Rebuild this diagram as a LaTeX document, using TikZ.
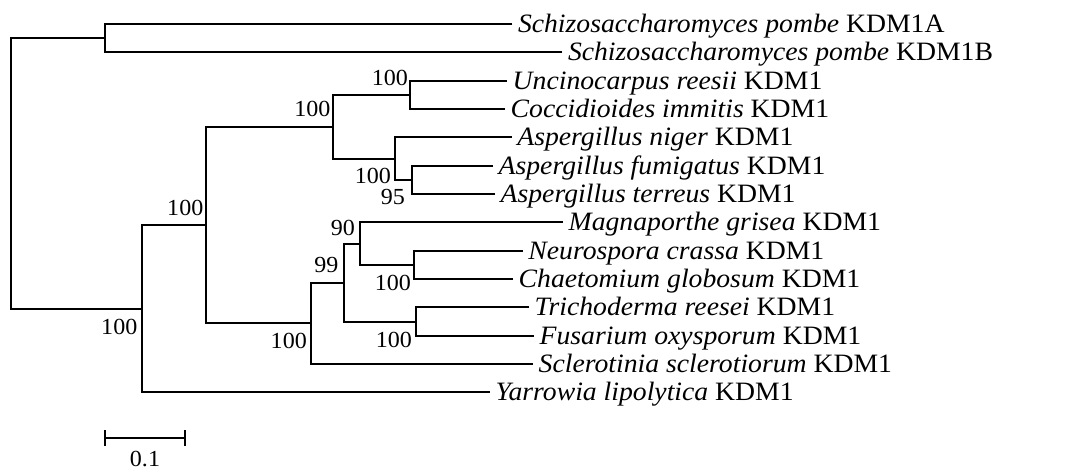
\documentclass[tikz,border=0pt]{standalone}
\usepackage{fontspec}
\setmainfont{Liberation Serif}[FakeStretch=1.045]
\begin{document}
\begin{tikzpicture}[x=1pt,y=-1pt,
  branch/.style={line width=2pt, black},
  leaflab/.style={anchor=base west, inner sep=0pt, xshift=5.5pt, yshift=-8.5pt, font=\fontsize{26.5}{31}\selectfont},
  boot/.style={anchor=base east, inner sep=0pt, font=\fontsize{23}{27}\selectfont}]
\useasboundingbox (0,0) rectangle (1074,471);
% leaves
\coordinate (A) at (512.3,24);
\coordinate (B) at (562.3,52.3);
\coordinate (Unc) at (507,80.7);
\coordinate (Coc) at (505,109);
\coordinate (Nig) at (511.7,137.3);
\coordinate (Fum) at (493,165.7);
\coordinate (Ter) at (495,194);
\coordinate (Mag) at (563,222.3);
\coordinate (Neu) at (522.7,250.7);
\coordinate (Cha) at (513,279);
\coordinate (Tri) at (529,307.3);
\coordinate (Fus) at (534,335.7);
\coordinate (Scl) at (533,364);
\coordinate (Yar) at (490,392.3);
% internal nodes
\coordinate (P) at (104.5,38.2);
\coordinate (UC) at (410.3,94.8);
\coordinate (FT) at (412,179.8);
\coordinate (AS) at (394.7,158.6);
\coordinate (U) at (332.7,126.7);
\coordinate (NC) at (414.3,264.8);
\coordinate (N90) at (360,243.6);
\coordinate (TF) at (416,321.5);
\coordinate (N99) at (344.3,282.6);
\coordinate (Z) at (310.7,323.3);
\coordinate (Y) at (206.3,225);
\coordinate (X) at (141.7,308.6);
\coordinate (R) at (10.5,173.4);
% branches
\draw[branch] (A) -| (P);
\draw[branch] (B) -| (P);
\draw[branch] (Unc) -| (UC);
\draw[branch] (Coc) -| (UC);
\draw[branch] (Fum) -| (FT);
\draw[branch] (Ter) -| (FT);
\draw[branch] (Nig) -| (AS);
\draw[branch] (FT) -| (AS);
\draw[branch] (UC) -| (U);
\draw[branch] (AS) -| (U);
\draw[branch] (Neu) -| (NC);
\draw[branch] (Cha) -| (NC);
\draw[branch] (Mag) -| (N90);
\draw[branch] (NC) -| (N90);
\draw[branch] (Tri) -| (TF);
\draw[branch] (Fus) -| (TF);
\draw[branch] (N90) -| (N99);
\draw[branch] (TF) -| (N99);
\draw[branch] (N99) -| (Z);
\draw[branch] (Scl) -| (Z);
\draw[branch] (U) -| (Y);
\draw[branch] (Z) -| (Y);
\draw[branch] (Y) -| (X);
\draw[branch] (Yar) -| (X);
\draw[branch] (P) -| (R);
\draw[branch] (X) -| (R);
% leaf labels
\node[leaflab] (tA) at (A) {\textit{Schizosaccharomyces pombe} KDM1A};
\node[leaflab] (tB) at (B) {\textit{Schizosaccharomyces pombe} KDM1B};
\node[leaflab] (tUnc) at (Unc) {\textit{Uncinocarpus reesii} KDM1};
\node[leaflab] (tCoc) at (Coc) {\textit{Coccidioides immitis} KDM1};
\node[leaflab] (tNig) at (Nig) {\textit{Aspergillus niger} KDM1};
\node[leaflab] (tFum) at (Fum) {\textit{Aspergillus fumigatus} KDM1};
\node[leaflab] (tTer) at (Ter) {\textit{Aspergillus terreus} KDM1};
\node[leaflab] (tMag) at (Mag) {\textit{Magnaporthe grisea} KDM1};
\node[leaflab] (tNeu) at (Neu) {\textit{Neurospora crassa} KDM1};
\node[leaflab] (tCha) at (Cha) {\textit{Chaetomium globosum} KDM1};
\node[leaflab] (tTri) at (Tri) {\textit{Trichoderma reesei} KDM1};
\node[leaflab] (tFus) at (Fus) {\textit{Fusarium oxysporum} KDM1};
\node[leaflab] (tScl) at (Scl) {\textit{Sclerotinia sclerotiorum} KDM1};
\node[leaflab] (tYar) at (Yar) {\textit{Yarrowia lipolytica} KDM1};
% bootstrap values
\node[boot] (bU) at (330.5,116.5) {100};
\node[boot] (bUC) at (408,85) {100};
\node[boot] (bAS) at (391,183) {100};
\node[boot] (bFT) at (405,204) {95};
\node[boot] (bY) at (203.5,215) {100};
\node[boot] (bX) at (137.5,334) {100};
\node[boot] (bZ) at (307,348.3) {100};
\node[boot] (bN99) at (338.5,272.7) {99};
\node[boot] (bN90) at (355,235) {90};
\node[boot] (bNC) at (411,290) {100};
\node[boot] (bTF) at (412,347.3) {100};
% scale bar
\coordinate (s1) at (105,438.3);
\coordinate (s2) at (185,438.3);
\draw[branch] (s1) -- (s2);
\draw[branch] ([yshift=8pt]s1) -- ([yshift=-8pt]s1);
\draw[branch] ([yshift=8pt]s2) -- ([yshift=-8pt]s2);
\node[anchor=base, inner sep=0pt, font=\fontsize{23}{27}\selectfont] (sl) at (145,466) {0.1};
\end{tikzpicture}
\end{document}
